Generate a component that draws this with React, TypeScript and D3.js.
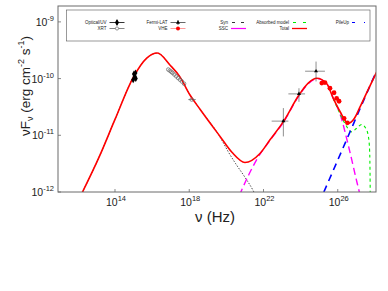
import React, { useEffect, useRef } from "react";
import * as d3 from "d3";

// all values are log10: [log nu (Hz), log nuFnu (erg cm^-2 s^-1)]
const totalModel: [number, number][] = [
    [12.1, -12.1], [13.19, -11.35], [14.0, -10.72], [15.0, -9.97], [15.71, -9.64],
    [16.28, -9.55], [16.96, -9.76], [17.5, -9.97], [18.04, -10.29], [18.58, -10.54],
    [19.66, -11.02], [20.3, -11.3], [21.0, -11.48], [21.81, -11.32], [22.35, -11.08],
    [23.07, -10.76], [23.91, -10.29], [24.41, -10.08], [24.87, -9.995], [25.41, -10.09],
    [25.76, -10.35], [26.12, -10.58], [26.57, -10.79], [26.9, -10.7], [27.2, -10.5],
    [27.6, -10.22], [28.1, -9.88],
];
const synModel: [number, number][] = [
    [12.1, -12.1], [13.19, -11.35], [14.0, -10.72], [15.0, -9.97], [15.71, -9.64],
    [16.28, -9.55], [16.96, -9.76], [17.5, -9.97], [18.04, -10.29], [18.58, -10.54],
    [19.66, -11.03], [20.1, -11.29], [20.5, -11.5], [21.0, -11.74], [21.45, -11.98],
    [21.6, -12.08],
];
const sscModel: [number, number][] = [
    [20.7, -12.06], [21.2, -11.7], [21.72, -11.38], [22.35, -11.09], [23.07, -10.77],
    [23.91, -10.3], [24.41, -10.09], [24.87, -10.0], [25.41, -10.09], [25.76, -10.35],
    [26.12, -10.62], [26.6, -11.22], [27.05, -11.85], [27.2, -12.05],
];
const absorbedModel: [number, number][] = [
    [25.76, -10.35], [26.12, -10.62], [26.4, -10.8], [26.75, -10.94], [27.0, -10.88],
    [27.29, -10.81], [27.5, -10.87], [27.65, -11.02], [27.72, -11.3], [27.74, -11.7],
    [27.75, -12.06],
];
const pileUpModel: [number, number][] = [
    [25.25, -12.0], [26.5, -11.06], [27.4, -10.38], [28.1, -9.86],
];

const opticalUV: [number, number][] = [
    [14.98, -10.02], [15.02, -9.92], [15.06, -9.96], [15.1, -9.9], [15.12, -10.0],
];
const xrt: [number, number][] = [
    [16.87, -9.84], [16.95, -9.86], [17.03, -9.88], [17.1, -9.9], [17.2, -9.93],
    [17.3, -9.96], [17.4, -9.99], [17.5, -10.02], [17.6, -10.05], [17.72, -10.09],
];
// [log nu, log F, nu lo, nu hi, F lo, F hi]
const xrtHard: number[][] = [[18.13, -10.37, 17.95, 18.35, -10.37, -10.37]];
const fermiLat: number[][] = [
    [23.07, -10.75, 22.44, 23.34, -11.02, -10.52],
    [23.91, -10.27, 23.34, 24.24, -10.41, -10.17],
    [24.83, -9.87, 24.24, 25.31, -10.05, -9.7],
];
const vhe: [number, number][] = [
    [25.14, -10.08], [25.31, -10.07], [25.58, -10.17], [25.8, -10.25],
    [25.94, -10.35], [26.07, -10.4], [26.34, -10.7], [26.52, -10.78],
];

const xTicks = [14, 18, 22, 26];
const yTicks = [-12, -11, -10, -9];

const legendLabels = [
    ["Optical/UV", "XRT"],
    ["Fermi-LAT", "VHE"],
    ["Syn", "SSC"],
    ["Absorbed model", "Total"],
    ["PileUp"],
];

const FONT = "Liberation Sans, Arial, sans-serif";

const App = () => {
    const svgRef = useRef(null);

    useEffect(() => {
        const svg = d3.select(svgRef.current);
        svg.selectAll("*").remove();

        const left = 58, right = 376, top = 6, bottom = 192;
        const x = d3.scaleLog().domain([10 ** 10.93, 10 ** 28.06]).range([left, right]);
        const y = d3.scaleLog().domain([1e-12, 10 ** -8.72]).range([bottom, top]);
        const px = (d: number[]) => x(10 ** d[0]);
        const py = (d: number[]) => y(10 ** d[1]);

        svg.append("defs")
            .append("clipPath")
            .attr("id", "plotclip")
            .append("rect")
            .attr("x", left)
            .attr("y", top)
            .attr("width", right - left)
            .attr("height", bottom - top);

        svg.append("rect")
            .attr("x", left)
            .attr("y", top)
            .attr("width", right - left)
            .attr("height", bottom - top)
            .attr("fill", "white");

        const plot = svg.append("g").attr("clip-path", "url(#plotclip)");
        const line = d3.line<[number, number]>().x(px).y(py).curve(d3.curveMonotoneX);

        const drawCurve = (data, color, width, dash) => {
            plot.append("path")
                .attr("d", line(data))
                .attr("fill", "none")
                .attr("stroke", color)
                .attr("stroke-width", width)
                .attr("stroke-dasharray", dash);
        };
        drawCurve(synModel, "#000", 0.7, "1.5,1.5");
        drawCurve(sscModel, "#ff00ff", 1.4, "7,4");
        drawCurve(absorbedModel, "#00ee00", 1.1, "3,3");
        drawCurve(pileUpModel, "#0000ff", 1.6, "7,5");
        drawCurve(totalModel, "#ff0000", 1.6, null);

        // data points
        plot.selectAll(".opt")
            .data(opticalUV)
            .enter()
            .append("path")
            .attr("d", d3.symbol().type(d3.symbolDiamond).size(14))
            .attr("transform", (d) => `translate(${px(d)},${py(d)})`)
            .attr("fill", "#000");

        xrtHard.forEach((d) => {
            plot.append("line")
                .attr("x1", x(10 ** d[2])).attr("x2", x(10 ** d[3]))
                .attr("y1", py(d)).attr("y2", py(d))
                .attr("stroke", "#555").attr("stroke-width", 0.7);
        });
        plot.selectAll(".xrt")
            .data([...xrt, ...xrtHard.map((d) => [d[0], d[1]])])
            .enter()
            .append("circle")
            .attr("cx", px)
            .attr("cy", py)
            .attr("r", 1.8)
            .attr("fill", "none")
            .attr("stroke", "#666")
            .attr("stroke-width", 0.7);

        fermiLat.forEach((d) => {
            plot.append("line")
                .attr("x1", x(10 ** d[2])).attr("x2", x(10 ** d[3]))
                .attr("y1", py(d)).attr("y2", py(d))
                .attr("stroke", "#444").attr("stroke-width", 0.6);
            plot.append("line")
                .attr("x1", px(d)).attr("x2", px(d))
                .attr("y1", y(10 ** d[4])).attr("y2", y(10 ** d[5]))
                .attr("stroke", "#444").attr("stroke-width", 0.6);
            plot.append("path")
                .attr("d", d3.symbol().type(d3.symbolTriangle).size(7))
                .attr("transform", `translate(${px(d)},${py(d)})`)
                .attr("fill", "#000");
        });

        plot.selectAll(".vhe")
            .data(vhe)
            .enter()
            .append("circle")
            .attr("cx", px)
            .attr("cy", py)
            .attr("r", 2.4)
            .attr("fill", "#ff0000");

        // frame
        svg.append("rect")
            .attr("x", left)
            .attr("y", top)
            .attr("width", right - left)
            .attr("height", bottom - top)
            .attr("fill", "none")
            .attr("stroke", "#6a6a6a")
            .attr("stroke-width", 1);

        // x ticks
        xTicks.forEach((t) => {
            const xx = x(10 ** t);
            svg.append("line")
                .attr("x1", xx).attr("x2", xx)
                .attr("y1", bottom).attr("y2", bottom - 3)
                .attr("stroke", "#6a6a6a").attr("stroke-width", 0.8);
            const lbl = svg.append("text")
                .attr("x", xx + 1)
                .attr("y", bottom + 14)
                .attr("text-anchor", "middle")
                .attr("font-family", FONT)
                .attr("font-size", 10.5)
                .attr("fill", "#222");
            lbl.append("tspan").text("10");
            lbl.append("tspan").attr("dy", -5).attr("font-size", 7.5).text(String(t));
        });

        // y ticks
        yTicks.forEach((t) => {
            const yy = y(10 ** t);
            svg.append("line")
                .attr("x1", left).attr("x2", left + 3)
                .attr("y1", yy).attr("y2", yy)
                .attr("stroke", "#6a6a6a").attr("stroke-width", 0.8);
            const lbl = svg.append("text")
                .attr("x", left - 4)
                .attr("y", yy + 4)
                .attr("text-anchor", "end")
                .attr("font-family", FONT)
                .attr("font-size", 10.5)
                .attr("fill", "#222");
            lbl.append("tspan").text("10");
            lbl.append("tspan").attr("dy", -5).attr("font-size", 7.5).text(String(t));
        });

        // axis labels
        svg.append("text")
            .attr("x", 215)
            .attr("y", 222)
            .attr("text-anchor", "middle")
            .attr("font-family", FONT)
            .attr("font-size", 15)
            .attr("fill", "#222")
            .text("\u03bd (Hz)");

        const ylab = svg.append("text")
            .attr("transform", "translate(30,86) rotate(-90)")
            .attr("text-anchor", "middle")
            .attr("font-family", FONT)
            .attr("font-size", 13.5)
            .attr("fill", "#222");
        ylab.append("tspan").text("\u03bdF");
        ylab.append("tspan").attr("dy", 3).attr("font-size", 9).text("\u03bd");
        ylab.append("tspan").attr("dy", -3).text(" (erg cm");
        ylab.append("tspan").attr("dy", -6).attr("font-size", 9).text("-2");
        ylab.append("tspan").attr("dy", 6).text(" s");
        ylab.append("tspan").attr("dy", -6).attr("font-size", 9).text("-1");
        ylab.append("tspan").attr("dy", 6).text(")");

        // legend
        const lg = svg.append("g");
        lg.append("rect")
            .attr("x", 66.5).attr("y", 10)
            .attr("width", 303.5).attr("height", 31)
            .attr("fill", "white")
            .attr("stroke", "#555")
            .attr("stroke-width", 0.6);

        const colRight = [106.5, 167.5, 228, 289, 349];
        const rowY = [22.5, 28.5];
        legendLabels.forEach((col, ci) => {
            col.forEach((label, ri) => {
                const tx = colRight[ci];
                const ty = rowY[ri];
                lg.append("text")
                    .attr("x", tx)
                    .attr("y", ty + 1.5)
                    .attr("text-anchor", "end")
                    .attr("font-family", FONT)
                    .attr("font-size", 4.5)
                    .attr("fill", "#222")
                    .text(label);
                const x0 = tx + 3, x1 = tx + 18, xm = (x0 + x1) / 2;
                const seg = (color, w, dash) =>
                    lg.append("line")
                        .attr("x1", x0).attr("x2", x1)
                        .attr("y1", ty).attr("y2", ty)
                        .attr("stroke", color)
                        .attr("stroke-width", w)
                        .attr("stroke-dasharray", dash);
                if (label === "Optical/UV") {
                    seg("#000", 0.8, null);
                    lg.append("line").attr("x1", xm).attr("x2", xm).attr("y1", ty - 2.5).attr("y2", ty + 2.5).attr("stroke", "#000").attr("stroke-width", 0.8);
                    lg.append("path").attr("d", d3.symbol().type(d3.symbolDiamond).size(14)).attr("transform", `translate(${xm},${ty})`).attr("fill", "#000");
                } else if (label === "XRT") {
                    seg("#555", 0.7, null);
                    lg.append("circle").attr("cx", xm).attr("cy", ty).attr("r", 1.6).attr("fill", "white").attr("stroke", "#555").attr("stroke-width", 0.6);
                } else if (label === "Fermi-LAT") {
                    seg("#000", 0.6, null);
                    lg.append("line").attr("x1", xm).attr("x2", xm).attr("y1", ty - 2.5).attr("y2", ty + 2.5).attr("stroke", "#000").attr("stroke-width", 0.6);
                    lg.append("path").attr("d", d3.symbol().type(d3.symbolTriangle).size(7)).attr("transform", `translate(${xm},${ty})`).attr("fill", "#000");
                } else if (label === "VHE") {
                    seg("#ff8080", 0.8, null);
                    lg.append("circle").attr("cx", xm).attr("cy", ty).attr("r", 2).attr("fill", "#ff0000");
                } else if (label === "Syn") {
                    lg.append("line").attr("x1", x0 + 1).attr("x2", x1 - 1).attr("y1", ty).attr("y2", ty).attr("stroke", "#000").attr("stroke-width", 0.8).attr("stroke-dasharray", "3,6");
                } else if (label === "SSC") {
                    seg("#ff00ff", 1.2, null);
                } else if (label === "Absorbed model") {
                    lg.append("line").attr("x1", x0 + 1).attr("x2", x1 - 1).attr("y1", ty).attr("y2", ty).attr("stroke", "#00ee00").attr("stroke-width", 1).attr("stroke-dasharray", "3,7");
                } else if (label === "Total") {
                    seg("#ff0000", 1.3, null);
                } else if (label === "PileUp") {
                    lg.append("line").attr("x1", x0).attr("x2", x1 - 2).attr("y1", ty).attr("y2", ty).attr("stroke", "#0000ff").attr("stroke-width", 1).attr("stroke-dasharray", "3,9");
                }
            });
        });
    }, []);

    return (
        <svg
            ref={svgRef}
            width={388}
            height={291}
            style={{ position: "absolute", left: 0, top: 0, background: "white" }}
        ></svg>
    );
};

export default App;
